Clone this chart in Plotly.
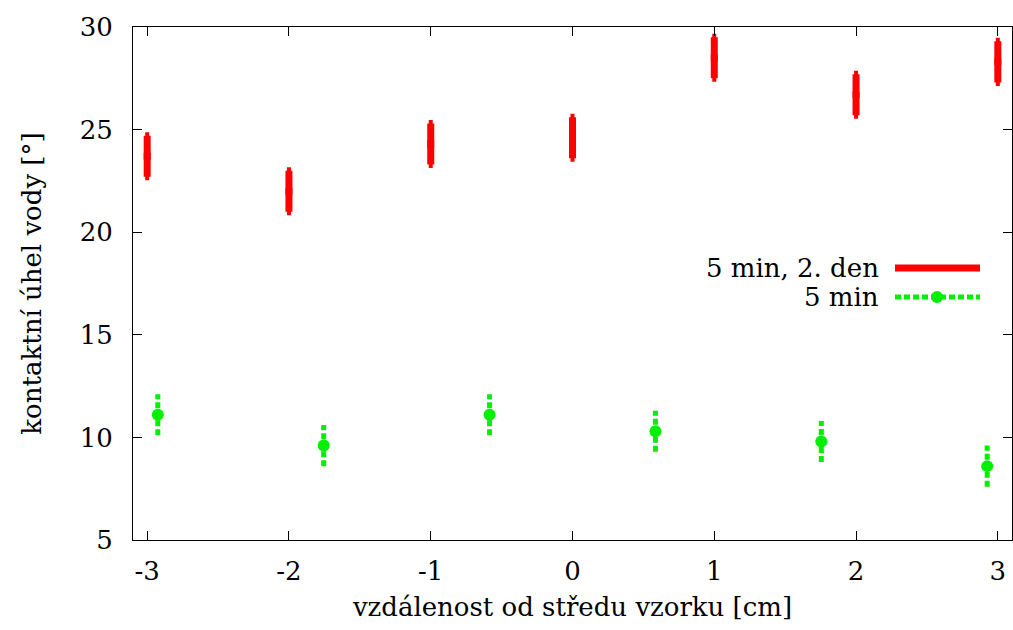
import plotly.graph_objects as go

# Data
x_red = [-3, -2, -1, 0, 1, 2, 3]
y_red = [23.7, 22.0, 24.3, 24.6, 28.5, 26.7, 28.3]
err_red = [1.0, 1.0, 1.0, 1.0, 1.0, 1.0, 1.0]

x_green = [-2.925, -1.755, -0.585, 0.585, 1.755, 2.925]
y_green = [11.1, 9.6, 11.1, 10.3, 9.8, 8.6]
err_green = [1.0, 1.0, 1.0, 1.0, 1.0, 1.0]

label_red = "5 min, 2. den"
label_green = "5 min"
x_ticks = [-3, -2, -1, 0, 1, 2, 3]
y_ticks = [5, 10, 15, 20, 25, 30]

RED = "#ff0000"
GREEN = "#00f000"
FONT = "DejaVu Serif"
FS = 26

fig = go.Figure()

# red: thick error bars
fig.add_trace(go.Scatter(
    x=x_red, y=y_red, mode="markers",
    marker=dict(symbol="square", size=7, color=RED),
    error_y=dict(type="data", array=err_red, visible=True,
                 color=RED, thickness=7, width=2),
    showlegend=False, cliponaxis=False,
))

# green: dotted error bars built as line segments
gx, gy = [], []
for xv, yv, ev in zip(x_green, y_green, err_green):
    gx += [xv, xv, None]
    gy += [yv - ev, yv + ev, None]
fig.add_trace(go.Scatter(
    x=gx, y=gy, mode="lines",
    line=dict(color=GREEN, width=5, dash="6px,3px"),
    showlegend=False, hoverinfo="skip", cliponaxis=False,
))
fig.add_trace(go.Scatter(
    x=x_green, y=y_green, mode="markers",
    marker=dict(symbol="circle", size=12, color=GREEN),
    showlegend=False, cliponaxis=False,
))

# manual legend (text left, sample right); plot area spans x 133..1012, y 27..540
def px(x):
    return (x - 133) / 879.0

def py(y):
    return (540 - y) / 513.0

ly_red, ly_green = py(268), py(297)
lx0, lx1, ltext = px(895), px(980), px(881)
fig.add_annotation(x=ltext, y=ly_red, xref="paper", yref="paper",
                   text=label_red, showarrow=False, xanchor="right", yanchor="middle",
                   font=dict(family=FONT, size=FS, color="black"))
fig.add_annotation(x=ltext, y=ly_green, xref="paper", yref="paper",
                   text=label_green, showarrow=False, xanchor="right", yanchor="middle",
                   font=dict(family=FONT, size=FS, color="black"))
fig.add_shape(type="line", xref="paper", yref="paper", x0=lx0, x1=lx1, y0=ly_red, y1=ly_red,
              line=dict(color=RED, width=7))
fig.add_shape(type="line", xref="paper", yref="paper", x0=lx0, x1=lx1, y0=ly_green, y1=ly_green,
              line=dict(color=GREEN, width=5, dash="6px,3px"))
fig.add_shape(type="circle", xref="paper", yref="paper",
              x0=px(931), x1=px(943), y0=py(303), y1=py(291),
              fillcolor=GREEN, line=dict(color=GREEN, width=0))
fig.add_shape(type="rect", xref="paper", yref="paper",
              x0=px(934), x1=px(940), y0=py(271), y1=py(265),
              fillcolor=RED, line=dict(color=RED, width=0))

axis_common = dict(
    showgrid=False, zeroline=False, showline=True, linecolor="black", linewidth=1,
    mirror="ticks", ticks="inside", ticklen=9, tickcolor="black", tickwidth=1,
    tickfont=dict(family=FONT, size=FS, color="black"),
)

fig.update_xaxes(range=[-3.1, 3.1], tickvals=x_ticks, ticktext=[str(t) for t in x_ticks],
                 ticklabelstandoff=8,
                 title=dict(text="vzdálenost od středu vzorku [cm]",
                            font=dict(family=FONT, size=FS, color="black"), standoff=12),
                 **axis_common)
fig.update_yaxes(range=[5, 30], tickvals=y_ticks, ticklabelstandoff=14,
                 title=dict(text="kontaktní úhel vody [°]",
                            font=dict(family=FONT, size=FS, color="black"), standoff=30),
                 **axis_common)

fig.update_layout(
    width=1013, height=630,
    margin=dict(l=133, r=1, t=27, b=90),
    plot_bgcolor="white", paper_bgcolor="white",
    showlegend=False,
)

fig.write_html("out.html")
